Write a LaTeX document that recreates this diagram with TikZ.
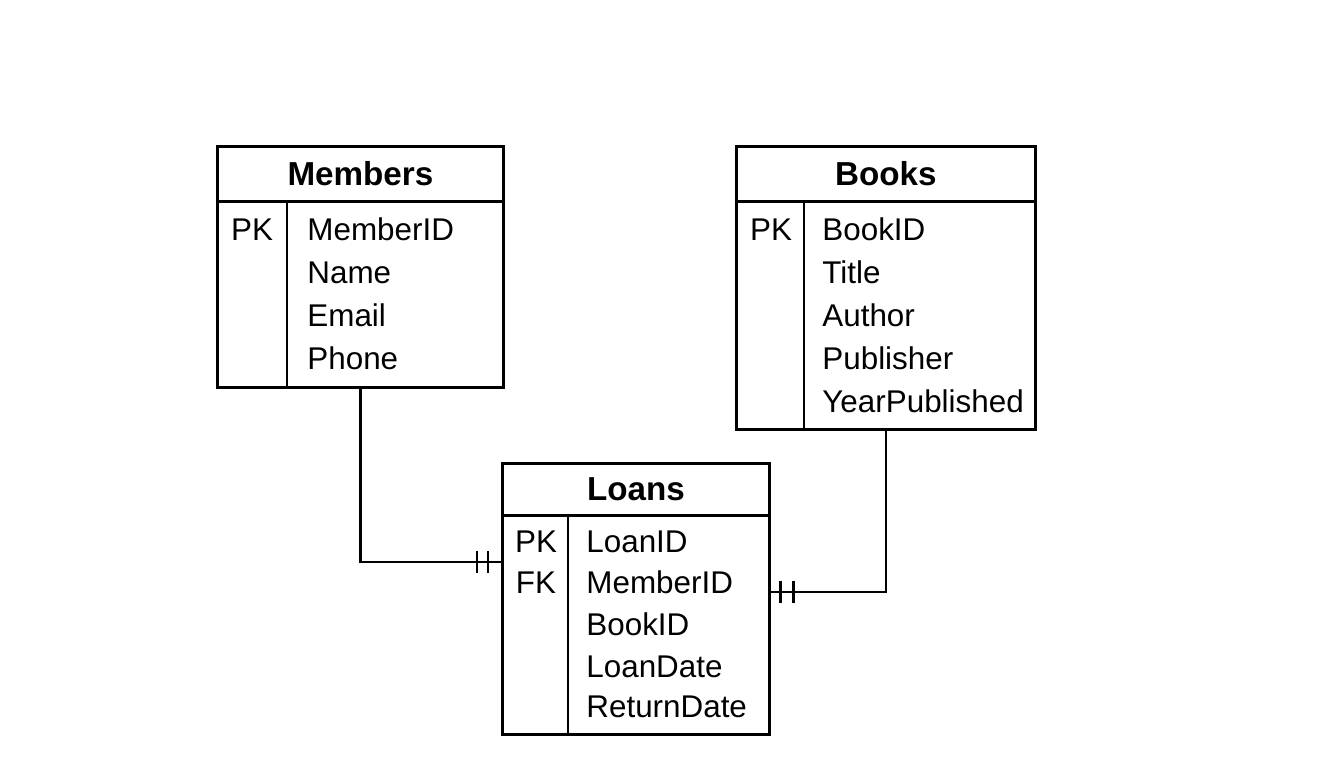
\documentclass[tikz,border=0pt]{standalone}
\usepackage{fontspec}
\setmainfont{Liberation Sans}
\usetikzlibrary{calc}

\begin{document}
\begin{tikzpicture}[x=0.5pt,y=-0.5pt,line width=1.4pt,
    tabhead/.style={draw,rectangle,anchor=north west,inner sep=0pt,font=\fontsize{16.6}{18}\selectfont\bfseries},
    tabbody/.style={draw,rectangle,anchor=north west,inner sep=0pt},
    field/.style={anchor=base west,inner sep=0pt,font=\fontsize{15.7}{18}\selectfont},
    keyfield/.style={anchor=base,inner sep=0pt,font=\fontsize{15.7}{18}\selectfont}]
  \useasboundingbox (0,0) rectangle (1344,769);
  % Members
  \node[tabhead,minimum width=143pt,minimum height=27.5pt] (mhead) at (216,145) {Members};
  \node[tabbody,minimum width=143pt,minimum height=93pt] (mbody) at (216,200) {};
  \draw ($(mbody.north west)+(71,0)$) -- ($(mbody.south west)+(71,0)$);
  \node[keyfield] (mpk) at (252,241) {PK};
  \node[field] (m1) at (306,241) {MemberID};
  \node[field] (m2) at (306,284) {Name};
  \node[field] (m3) at (306,327) {Email};
  \node[field] (m4) at (306,370) {Phone};
  % Books
  \node[tabhead,minimum width=149.5pt,minimum height=27.5pt] (bhead) at (735,145) {Books};
  \node[tabbody,minimum width=149.5pt,minimum height=114pt] (bbody) at (735,200) {};
  \draw ($(bbody.north west)+(69,0)$) -- ($(bbody.south west)+(69,0)$);
  \node[keyfield] (bpk) at (771,241) {PK};
  \node[field] (b1) at (821,241) {BookID};
  \node[field] (b2) at (821,284) {Title};
  \node[field] (b3) at (821,327) {Author};
  \node[field] (b4) at (821,370) {Publisher};
  \node[field] (b5) at (821,413) {YearPublished};
  % Loans
  \node[tabhead,minimum width=133.5pt,minimum height=26pt] (lhead) at (501,462) {Loans};
  \node[tabbody,minimum width=133.5pt,minimum height=109.5pt] (lbody) at (501,514) {};
  \draw ($(lbody.north west)+(67,0)$) -- ($(lbody.south west)+(67,0)$);
  \node[keyfield] (lpk) at (536,553) {PK};
  \node[keyfield] (lfk) at (536,594) {FK};
  \node[field] (l1) at (585,553) {LoanID};
  \node[field] (l2) at (585,594) {MemberID};
  \node[field] (l3) at (585,636) {BookID};
  \node[field] (l4) at (585,677) {LoanDate};
  \node[field] (l5) at (585,718) {ReturnDate};
  % relations
  \coordinate (lm) at ($(lbody.north west)+(0,48)$);
  \coordinate (lb) at ($(lbody.north east)+(0,78)$);
  \draw (mbody.south) |- (lm);
  \draw ($(lm)+(-24,-11)$) -- ++(0,22);
  \draw ($(lm)+(-13,-11)$) -- ++(0,22);
  \draw (bbody.south) |- (lb);
  \draw ($(lb)+(10,-11)$) -- ++(0,22);
  \draw ($(lb)+(23,-11)$) -- ++(0,22);
\end{tikzpicture}
\end{document}
